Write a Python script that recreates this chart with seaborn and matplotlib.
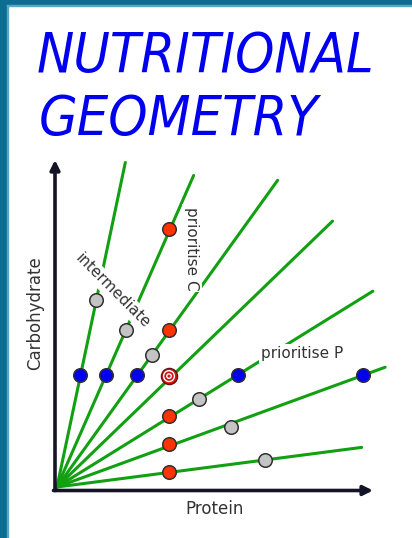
import pandas as pd
import seaborn as sns
import matplotlib.pyplot as plt
from matplotlib.patches import Rectangle

sns.set_style("white")
plt.rcParams['font.family'] = ['DejaVu Sans']

# rays from the origin (carbohydrate : protein ratios)
ray_slope = [4.75, 2.28, 1.39, 0.965, 0.62, 0.365, 0.13]
ray_end_p = [0.61, 1.22, 1.97, 2.46, 2.82, 2.93, 2.72]

# points (protein, carbohydrate)
red_p = [1.0, 1.0, 1.0, 1.0, 1.0]
red_c = [2.30, 1.40, 0.63, 0.38, 0.135]
blue_p = [0.205, 0.44, 0.71, 1.62, 2.73]
blue_c = [1.0, 1.0, 1.0, 1.0, 1.0]
grey_p = [0.35, 0.62, 0.85, 1.27, 1.55, 1.86]
grey_c = [1.67, 1.40, 1.18, 0.79, 0.54, 0.24]
target_p = [1.0]
target_c = [0.99]

rows = []
for i, (s, pe) in enumerate(zip(ray_slope, ray_end_p)):
    rows.append({"ray": i, "P": 0.0, "C": 0.0})
    rows.append({"ray": i, "P": pe, "C": pe * s})
rays = pd.DataFrame(rows)

W, H = 412, 538
unit = 112.0
ox, oy = 57, 487  # origin in pixels from top-left

fig = plt.figure(figsize=(W / 100, H / 100), dpi=100)
ax = fig.add_axes([0, 0, 1, 1])
ax.set_xlim(-ox / unit, (W - ox) / unit)
ax.set_ylim(-(H - oy) / unit, oy / unit)
ax.axis("off")

sns.lineplot(data=rays, x="P", y="C", units="ray", estimator=None,
             color="#12a012", lw=2.2, ax=ax, zorder=2, legend=False)

# axes with arrow heads
axc = "#141428"
ax.annotate("", xy=(-2 / unit, (oy - 160) / unit), xytext=(-2 / unit, -3.5 / unit),
            arrowprops=dict(arrowstyle="-|>", lw=2.6, color=axc, mutation_scale=14,
                            shrinkA=0, shrinkB=0), zorder=5)
ax.annotate("", xy=((373 - ox) / unit, -3.5 / unit), xytext=(-3.5 / unit, -3.5 / unit),
            arrowprops=dict(arrowstyle="-|>", lw=2.6, color=axc, mutation_scale=14,
                            shrinkA=0, shrinkB=0), zorder=5)

# labels (white boxes break the green lines)
lab = dict(color="#333333", fontsize=11, ha="center", va="center", zorder=3,
           bbox=dict(facecolor="white", edgecolor="none", pad=1.5))
ax.text(1.205, 2.13, "prioritise C", rotation=-90, **lab)
ax.text(2.19, 1.19, "prioritise P", **lab)
ax.text(0.50, 1.755, "intermediate", rotation=-45, rotation_mode="anchor", **lab)
ax.text(-0.196, 1.55, "Carbohydrate", rotation=90, color="#333333", fontsize=12,
        ha="center", va="center")
ax.text(1.41, -0.196, "Protein", color="#333333", fontsize=12, ha="center", va="center")

pt = dict(s=95, edgecolor="#303030", linewidth=1.1, zorder=6, ax=ax, legend=False)
sns.scatterplot(x=red_p, y=red_c, color="#ff3300", **pt)
sns.scatterplot(x=blue_p, y=blue_c, color="#0000ee", **pt)
sns.scatterplot(x=grey_p, y=grey_c, color="#c4c4c4", **pt)

# target: concentric rings
ax.scatter(target_p, target_c, s=135, color="#d41010", edgecolor="#6a1010",
           linewidth=1.0, zorder=7)
for size, col in [(78, "white"), (46, "#d41010"), (18, "white"), (5, "#d41010")]:
    ax.scatter(target_p, target_c, s=size, color=col, edgecolor="none", zorder=7)

# title
tkw = dict(color="#0000ee", fontsize=40, fontstyle="italic", ha="left", va="baseline",
           fontstretch="condensed")
fig.text(37 / W, (H - 72) / H, "NUTRITIONAL", **tkw)
fig.text(39 / W, (H - 135) / H, "GEOMETRY", **tkw)

# frame bands
fig.add_artist(Rectangle((0, (H - 5) / H), 1, 5 / H, transform=fig.transFigure,
                         color="#0b6d92", zorder=10))
fig.add_artist(Rectangle((0, 0), 6.5 / W, 1, transform=fig.transFigure,
                         color="#0b6d92", zorder=10))
fig.add_artist(Rectangle((6.5 / W, 0), 1.2 / W, (H - 5) / H, transform=fig.transFigure,
                         color="#5aa6c4", zorder=10))
fig.add_artist(Rectangle((6.5 / W, (H - 6.2) / H), 1 - 6.5 / W, 1.2 / H, transform=fig.transFigure,
                         color="#5aa6c4", zorder=10))

fig.savefig("out.png", dpi=100)
